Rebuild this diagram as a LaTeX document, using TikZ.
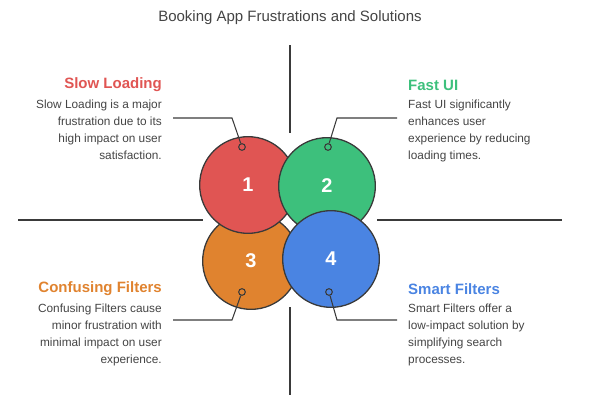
\documentclass[tikz,border=0pt]{standalone}
\usepackage{fontspec}
\setmainfont{Liberation Sans}
\definecolor{redc}{HTML}{E05553}
\definecolor{greenc}{HTML}{3DC07C}
\definecolor{orangec}{HTML}{E0832F}
\definecolor{bluec}{HTML}{4A84E2}
\definecolor{linec}{HTML}{3A3A3A}
\definecolor{textc}{HTML}{444444}
\begin{document}
\begin{tikzpicture}[x=0.03cm,y=-0.03cm]
    % Define styles
    \tikzset{
        petal/.style={circle, draw=linec, line width=1.1pt, minimum size=2.9cm, inner sep=0pt,
            text=white, font=\fontsize{17}{17}\selectfont\bfseries},
        dot/.style={circle, draw=linec, line width=0.9pt, minimum size=0.2cm, inner sep=0pt},
        lead/.style={linec, line width=0.9pt},
        axis/.style={linec, line width=1pt},
        head/.style={font=\fontsize{12.8}{14}\selectfont\bfseries, inner sep=0pt},
        body/.style={font=\fontsize{10.1}{14.4}\selectfont, text=textc, inner sep=0pt}
    }
    \useasboundingbox (0,0) rectangle (602,414);

    % Title
    \node[font=\fontsize{12.8}{14}\selectfont, text=textc] (title) at (290,18) {Booking App Frustrations and Solutions};

    % Axes
    \coordinate (vt1) at (290,45);  \coordinate (vt2) at (290,133);
    \coordinate (vb1) at (290,307); \coordinate (vb2) at (290,395);
    \coordinate (hl1) at (18,220);  \coordinate (hl2) at (203,220);
    \coordinate (hr1) at (377,220); \coordinate (hr2) at (562,220);
    \draw[axis] (vt1) -- (vt2);
    \draw[axis] (vb1) -- (vb2);
    \draw[axis] (hl1) -- (hl2);
    \draw[axis] (hr1) -- (hr2);

    % Circles
    \node[petal, fill=orangec] (c3) at (251,261) {3};
    \node[petal, fill=redc] (c1) at (248,185) {1};
    \node[petal, fill=greenc] (c2) at (327,186) {2};
    \node[petal, fill=bluec] (c4) at (331,259) {4};

    % Markers
    \node[dot] (d1) at (242,147) {};
    \node[dot] (d2) at (328,147) {};
    \node[dot] (d3) at (242,292) {};
    \node[dot] (d4) at (329,292) {};

    % Leaders
    \coordinate (k1) at (232,118); \coordinate (e1) at (173,118);
    \coordinate (k2) at (337,118); \coordinate (e2) at (397,118);
    \coordinate (k3) at (232,320); \coordinate (e3) at (173,320);
    \coordinate (k4) at (337,320); \coordinate (e4) at (397,320);
    \draw[lead] (d1) -- (k1) -- (e1);
    \draw[lead] (d2) -- (k2) -- (e2);
    \draw[lead] (d3) -- (k3) -- (e3);
    \draw[lead] (d4) -- (k4) -- (e4);

    % Texts
    \node[head, text=redc, anchor=east] (h1) at (162,85) {Slow Loading};
    \node[body, anchor=north east, align=right] (t1) at (162,100)
        {Slow Loading is a major\\frustration due to its\\high impact on user\\satisfaction.};
    \node[head, text=greenc, anchor=west] (h2) at (408,85) {Fast UI};
    \node[body, anchor=north west, align=left] (t2) at (408,100)
        {Fast UI significantly\\enhances user\\experience by reducing\\loading times.};
    \node[head, text=orangec, anchor=east] (h3) at (162,289) {Confusing Filters};
    \node[body, anchor=north east, align=right] (t3) at (162,304)
        {Confusing Filters cause\\minor frustration with\\minimal impact on user\\experience.};
    \node[head, text=bluec, anchor=west] (h4) at (408,289) {Smart Filters};
    \node[body, anchor=north west, align=left] (t4) at (408,304)
        {Smart Filters offer a\\low-impact solution by\\simplifying search\\processes.};
\end{tikzpicture}
\end{document}
